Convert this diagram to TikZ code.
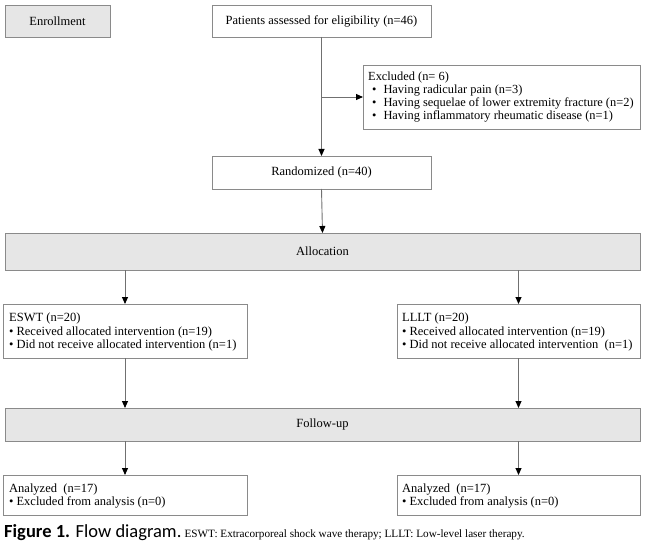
\documentclass[tikz,border=0pt]{standalone}
\usepackage{fontspec}
\setmainfont{Liberation Serif}
\newfontfamily\capsans{Carlito}
\usetikzlibrary{arrows.meta}
\definecolor{boxline}{HTML}{8A8A8A}
\definecolor{boxfill}{HTML}{E6E6E6}
\definecolor{conn}{HTML}{707070}
\tikzset{
  wbox/.style={draw=boxline, line width=0.9bp, fill=white, inner sep=0pt, outer sep=0pt},
  gbox/.style={wbox, fill=boxfill},
  conn/.style={draw=conn, line width=0.9bp, -{Triangle[length=7bp,width=6bp,fill=black,color=black]}},
  txt/.style={font=\fontsize{12.5bp}{13.7bp}\selectfont},
  ltext/.style={anchor=west, align=left, inner sep=0pt},
}
\newcommand{\bul}{\textbullet\hspace{3bp}}
\begin{document}
\begin{tikzpicture}[x=1bp,y=-1bp, txt]
\useasboundingbox (0,0) rectangle (645,549);
% Enrollment
\node[gbox, minimum width=105bp, minimum height=32bp] (enr) at (57.5,21) {Enrollment};
\node[wbox, minimum width=219bp, minimum height=32bp] (pat) at (321.5,21) {Patients assessed for eligibility (n=46)};
\node[wbox, minimum width=277bp, minimum height=64bp] (exc) at (501.5,97) {};
\node[ltext, font=\fontsize{12.4bp}{12.8bp}\selectfont] (exct) at (368,97)
  {Excluded (n= 6)\\
   \hspace*{4bp}\textbullet\hspace{7bp}Having radicular pain (n=3)\\
   \hspace*{4bp}\textbullet\hspace{7bp}Having sequelae of lower extremity fracture (n=2)\\
   \hspace*{4bp}\textbullet\hspace{7bp}Having inflammatory rheumatic disease (n=1)};
\node[wbox, minimum width=219bp, minimum height=33bp] (ran) at (321.5,172.5) {Randomized (n=40)};
\coordinate (br) at (pat.south |- exc.west);
\draw[draw=conn, line width=0.9bp] (pat.south) -- (br);
\draw[conn] (br) -- (exc.west);
\draw[conn] (br) -- (ran.north);
% Allocation
\node[gbox, minimum width=635bp, minimum height=37bp] (alloc) at (322.5,251.5) {Allocation};
\draw[conn] (ran.south) -- (alloc.north);
% ESWT / LLLT
\node[wbox, minimum width=244bp, minimum height=54bp] (eswt) at (125,331) {};
\node[ltext] (eswtt) at (9,332)
  {ESWT (n=20)\\
   \bul Received allocated intervention (n=19)\\
   \bul Did not receive allocated intervention (n=1)};
\node[wbox, minimum width=243bp, minimum height=54bp] (lllt) at (518.5,331) {};
\node[ltext] (lllt t) at (402,332)
  {LLLT (n=20)\\
   \bul Received allocated intervention (n=19)\\
   \bul Did not receive allocated intervention\ \ (n=1)};
\coordinate (al1) at (eswt.north |- alloc.south);
\coordinate (al2) at (lllt.north |- alloc.south);
\draw[conn] (al1) -- (eswt.north);
\draw[conn] (al2) -- (lllt.north);
% Follow-up
\node[gbox, minimum width=635bp, minimum height=33bp] (fol) at (322.5,424.5) {Follow-up};
\coordinate (fu1) at (eswt.south |- fol.north);
\coordinate (fu2) at (lllt.south |- fol.north);
\draw[conn] (eswt.south) -- (fu1);
\draw[conn] (lllt.south) -- (fu2);
% Analyzed
\node[wbox, minimum width=244bp, minimum height=40bp] (an1) at (125,495) {};
\node[ltext] (an1t) at (9,496)
  {Analyzed\ \ (n=17)\\
   \bul Excluded from analysis (n=0)};
\node[wbox, minimum width=243bp, minimum height=40bp] (an2) at (518.5,495) {};
\node[ltext] (an2t) at (402,496)
  {Analyzed\ \ (n=17)\\
   \bul Excluded from analysis (n=0)};
\coordinate (fo1) at (an1.north |- fol.south);
\coordinate (fo2) at (an2.north |- fol.south);
\draw[conn] (fo1) -- (an1.north);
\draw[conn] (fo2) -- (an2.north);
% Caption
\node[anchor=base west, inner sep=0pt] (cap) at (4,537)
  {{\capsans\fontsize{18.5bp}{19bp}\selectfont\textbf{Figure 1.} Flow diagram.}\ {\fontsize{11.2bp}{12bp}\selectfont ESWT: Extracorporeal shock wave therapy; LLLT: Low-level laser therapy.}};
\end{tikzpicture}
\end{document}
